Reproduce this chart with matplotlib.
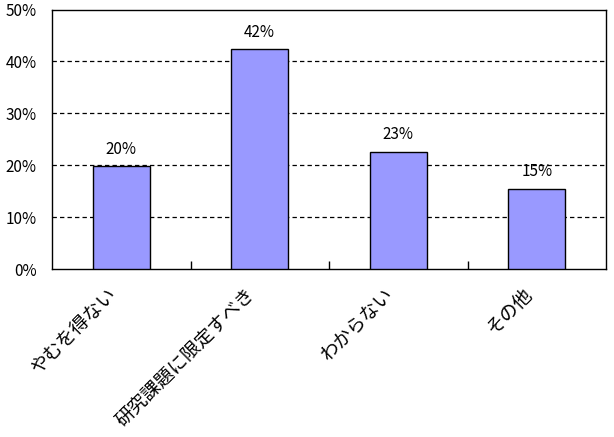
import matplotlib
matplotlib.use("Agg")
import matplotlib.pyplot as plt
from matplotlib.ticker import FixedLocator
from matplotlib.transforms import ScaledTranslation

plt.rcParams['font.family'] = ['Noto Sans CJK JP', 'DejaVu Sans']

categories = ['やむを得ない', '研究課題に限定すべき', 'わからない', 'その他']
values = [19.8, 42.3, 22.6, 15.5]
value_labels = ['20%', '42%', '23%', '15%']
yticks = [0, 10, 20, 30, 40, 50]
ytick_labels = ['0%', '10%', '20%', '30%', '40%', '50%']

fig = plt.figure(figsize=(6.14, 4.37), dpi=100)
ax = fig.add_axes([52/614, 1-269/437, 554/614, 259.5/437])

x = list(range(len(categories)))
ax.bar(x, values, width=0.41, color='#9999FF', edgecolor='black', linewidth=1, zorder=3)
for xi, v, lab in zip(x, values, value_labels):
    ax.annotate(lab, (xi, v), xytext=(0, 6), textcoords='offset points',
                ha='center', va='bottom', fontsize=11)

ax.set_xlim(-0.5, len(categories) - 0.5)
ax.set_ylim(0, 50)
ax.set_yticks(yticks)
ax.set_yticklabels(ytick_labels, fontsize=11)
ax.tick_params(axis='y', length=0, pad=11)
for t in [10, 20, 30, 40]:
    ax.axhline(t, color='black', linestyle=(0, (3.5, 2.5)), linewidth=0.9, zorder=1)

ax.set_xticks(x)
ax.set_xticklabels(categories, rotation=45, ha='right', va='top', rotation_mode='anchor', fontsize=13.5)
ax.tick_params(axis='x', length=0, pad=10.5)
offset = ScaledTranslation(-11/72, 0, fig.dpi_scale_trans)
for lbl in ax.get_xticklabels():
    lbl.set_transform(lbl.get_transform() + offset)
ax.xaxis.set_minor_locator(FixedLocator([0.5, 1.5, 2.5]))
ax.tick_params(axis='x', which='minor', direction='in', length=6, width=1)

for s in ax.spines.values():
    s.set_linewidth(1)
    s.set_color('black')

fig.savefig('out.png', dpi=100)
